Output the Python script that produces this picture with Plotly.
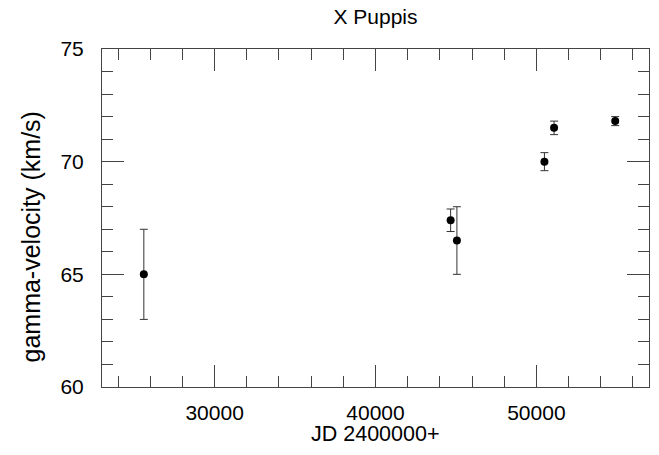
import plotly.graph_objects as go

jd = [25600, 44670, 45060, 50500, 51100, 54900]
gamma = [65.0, 67.4, 66.5, 70.0, 71.5, 71.8]
gamma_err = [2.0, 0.5, 1.5, 0.4, 0.3, 0.2]

x_range = [23000, 57000]
y_range = [60, 75]

title_text = "X Puppis"
x_title = "JD 2400000+"
y_title = "gamma-velocity (km/s)"

FONT = "Liberation Sans, Arial, Helvetica, sans-serif"
AX = "#444444"
W, H = 659, 455
L, R, T, B = 102, 10, 49, 68
PW, PH = W - L - R, H - T - B

fig = go.Figure()
fig.add_trace(go.Scatter(
    x=jd, y=gamma, mode="markers",
    marker=dict(color="black", size=8),
    error_y=dict(type="data", array=gamma_err, visible=True,
                 color="#333333", thickness=1, width=4),
    showlegend=False, hoverinfo="skip",
))

common = dict(
    showgrid=False, zeroline=False, showline=True, linecolor=AX, linewidth=1,
    mirror="ticks", ticks="inside", ticklen=22, tickcolor=AX, tickwidth=1,
    tickfont=dict(family=FONT, size=21, color="black"),
    automargin=False, fixedrange=True,
)

fig.update_xaxes(range=x_range, tick0=0, dtick=10000, tickformat="d",
                 minor=dict(dtick=2000, ticklen=11, ticks="inside", tickcolor=AX, tickwidth=1),
                 ticklabelstandoff=7, **common)
fig.update_yaxes(range=y_range, tick0=0, dtick=5,
                 minor=dict(dtick=1, ticklen=11, ticks="inside", tickcolor=AX, tickwidth=1),
                 ticklabelstandoff=13, **common)

fig.add_annotation(text=x_title, xref="paper", yref="paper",
                   x=0.5, y=-(434.2 - (T + PH)) / PH,
                   xanchor="center", yanchor="middle", showarrow=False,
                   font=dict(family=FONT, size=21.5, color="black"))
fig.add_annotation(text=y_title, xref="paper", yref="paper",
                   x=(30.8 - L) / PW, y=((T + PH) - 236.7) / PH,
                   xanchor="center", yanchor="middle", showarrow=False, textangle=-90,
                   font=dict(family=FONT, size=25, color="black"))

fig.update_layout(
    width=W, height=H,
    margin=dict(l=L, r=R, t=T, b=B, autoexpand=False),
    paper_bgcolor="white", plot_bgcolor="white",
    title=dict(text=title_text, x=0.5, xref="paper", xanchor="center",
               y=1 - 17 / H, yref="container", yanchor="middle",
               font=dict(family=FONT, size=21, color="black")),
    font=dict(family=FONT),
)

fig.write_html("out.html", config={"displayModeBar": False},
               post_script="document.body.style.margin='0px';")
